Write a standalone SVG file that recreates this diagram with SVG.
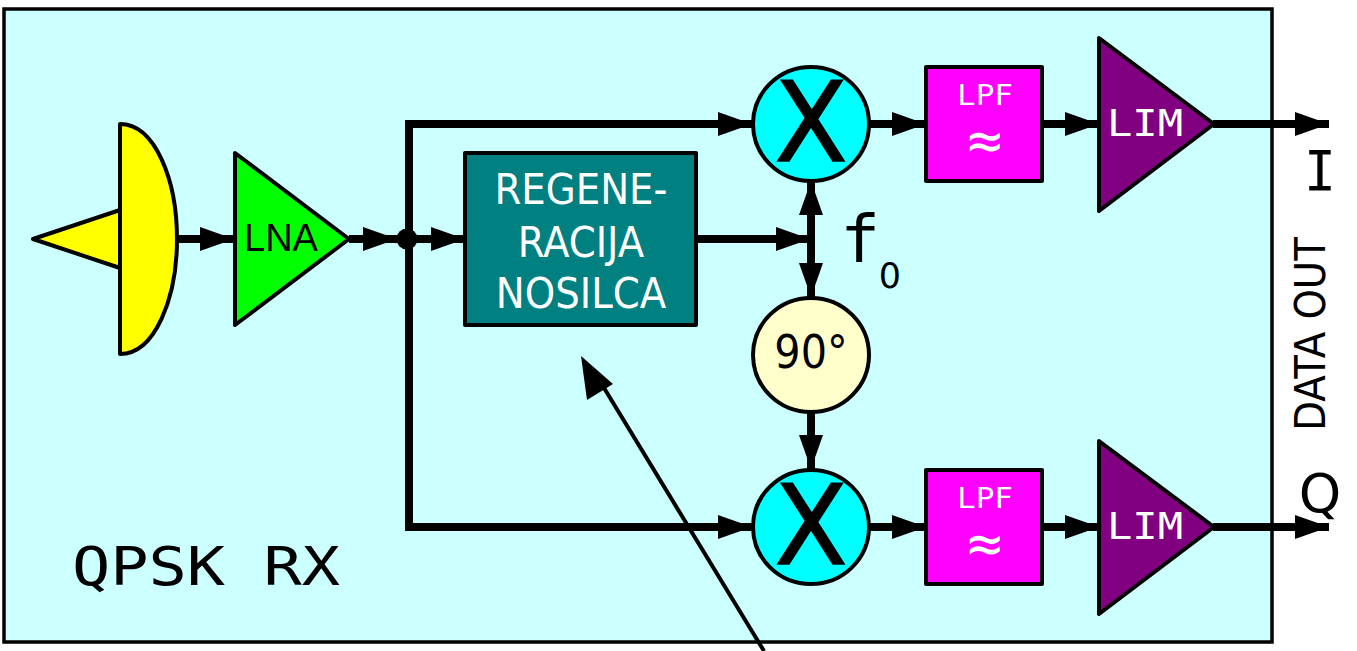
<svg xmlns="http://www.w3.org/2000/svg" width="1357" height="651" viewBox="0 0 1357 651">
<style>
.o{stroke:#000;stroke-width:4;stroke-linejoin:round}
.w{fill:none;stroke:#000;stroke-width:8}
.m{font-family:"DejaVu Sans Mono",monospace}
.s{font-family:"DejaVu Sans",sans-serif}
.c{font-family:"DejaVu Sans Condensed","DejaVu Sans",sans-serif}
.a{font-family:"Liberation Sans",sans-serif}
.x{stroke:#000;stroke-width:1.500}
text{text-anchor:middle}
</style>
<defs>
<marker id="ah" markerUnits="userSpaceOnUse" markerWidth="35" markerHeight="25" refX="34" refY="12.500" orient="auto-start-reverse" viewBox="0 0 35 25"><path d="M0 0.500L34 12.500L0 24.500Z" fill="#000"/></marker>
</defs>
<rect id="frame" x="4" y="9" width="1268" height="633" fill="#ccffff" stroke="#000" stroke-width="3.5"/>
<g id="connectors">
<path class="w" d="M177 239H234" marker-end="url(#ah)"/>
<path class="w" d="M349 239H397" marker-end="url(#ah)"/>
<path class="w" d="M407 239H465" marker-end="url(#ah)"/>
<path class="w" d="M752 124H409V527H752" marker-start="url(#ah)" marker-end="url(#ah)"/>
<path class="w" d="M696 239H810" marker-end="url(#ah)"/>
<path class="w" d="M811 181V297" marker-start="url(#ah)" marker-end="url(#ah)"/>
<path class="w" d="M811 410V469" marker-end="url(#ah)"/>
<path class="w" d="M869 124H926" marker-end="url(#ah)"/>
<path class="w" d="M1042 124H1099" marker-end="url(#ah)"/>
<path class="w" d="M1213 124H1329" marker-end="url(#ah)"/>
<path class="w" d="M869 527H926" marker-end="url(#ah)"/>
<path class="w" d="M1042 527H1099" marker-end="url(#ah)"/>
<path class="w" d="M1213 527H1329" marker-end="url(#ah)"/>
<circle cx="407" cy="239" r="10.500" fill="#000"/>
<path d="M764 651L598 378" fill="none" stroke="#000" stroke-width="4"/>
<path d="M581 356L613 384L587 400Z" fill="#000"/>
</g>
<g id="antenna">
<path class="o" d="M120 210L33 239L120 268Z" fill="#ffff00"/>
<path class="o" d="M120 124C155 124 177 180 177 239C177 298 155 354 120 354Z" fill="#ffff00"/>
</g>
<g id="lna">
<path class="o" d="M235 153L349 239L235 325Z" fill="#00ff00"/>
<text class="a" x="281" y="251" font-size="38">LNA</text>
</g>
<g id="carrier">
<rect class="o" x="465" y="153" width="231" height="172" fill="#008080"/>
<g class="c" font-size="43" fill="#fff">
<text x="581" y="204">REGENE-</text>
<text x="581" y="257">RACIJA</text>
<text x="581" y="308">NOSILCA</text>
</g>
</g>
<g id="mixer1">
<ellipse class="o" cx="811" cy="124" rx="58" ry="57" fill="#00ffff"/>
<text class="s x" x="811" y="161" font-size="110" textLength="73" lengthAdjust="spacingAndGlyphs">X</text>
</g>
<g id="mixer2">
<ellipse class="o" cx="811" cy="527" rx="58" ry="57" fill="#00ffff"/>
<text class="s x" x="811" y="564" font-size="110" textLength="73" lengthAdjust="spacingAndGlyphs">X</text>
</g>
<g id="phase">
<ellipse class="o" cx="811" cy="355" rx="58" ry="57" fill="#ffffcc"/>
<text class="c" x="811" y="368" font-size="46">90°</text>
</g>
<g id="lpf1">
<rect class="o" x="926" y="67" width="116" height="114" fill="#ff00ff"/>
<text class="m" x="985" y="105" font-size="28" fill="#fff" textLength="56" lengthAdjust="spacingAndGlyphs">LPF</text>
<text class="m" x="985" y="160" font-size="58" fill="#fff">≈</text>
</g>
<g id="lpf2">
<rect class="o" x="926" y="470" width="116" height="114" fill="#ff00ff"/>
<text class="m" x="985" y="508" font-size="28" fill="#fff" textLength="56" lengthAdjust="spacingAndGlyphs">LPF</text>
<text class="m" x="985" y="563" font-size="58" fill="#fff">≈</text>
</g>
<g id="lim1">
<path class="o" d="M1099 38L1214 124L1099 211Z" fill="#800080"/>
<text class="m" x="1145" y="136" font-size="37" fill="#fff" textLength="76" lengthAdjust="spacingAndGlyphs">LIM</text>
</g>
<g id="lim2">
<path class="o" d="M1099 441L1214 527L1099 614Z" fill="#800080"/>
<text class="m" x="1145" y="539" font-size="37" fill="#fff" textLength="76" lengthAdjust="spacingAndGlyphs">LIM</text>
</g>
<g id="labels">
<text class="m" x="860" y="262" font-size="66">f</text>
<text class="s" x="890" y="288" font-size="35">0</text>
<text class="m" x="1320" y="190" font-size="55" textLength="32" lengthAdjust="spacingAndGlyphs">I</text>
<text class="s" x="1320" y="512" font-size="54">Q</text>
<text class="c" font-size="43" transform="translate(1325 334) rotate(-90)">DATA OUT</text>
<text class="m" x="206" y="585" font-size="54" textLength="268" lengthAdjust="spacingAndGlyphs">QPSK RX</text>
</g>
</svg>
